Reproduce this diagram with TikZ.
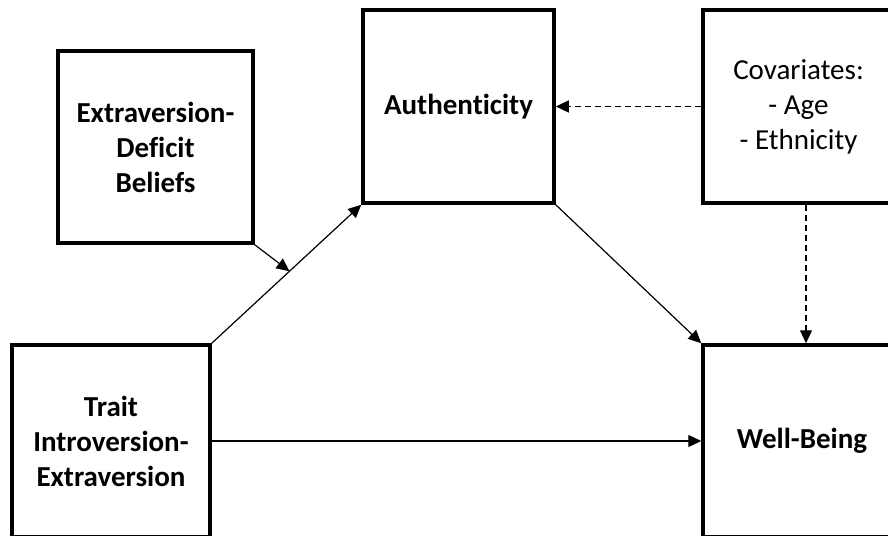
\documentclass[tikz,border=0pt]{standalone}
\usepackage{fontspec}
\setmainfont[Ligatures=NoCommon]{Carlito}
\usetikzlibrary{arrows.meta}

\begin{document}
\begin{tikzpicture}[x=1pt, y=-1pt, box/.style={rectangle, draw=black, line width=3.5pt, align=center, font=\fontsize{29}{35}\selectfont}, path/.style={line width=1.2pt, -{Triangle[length=13pt, width=12pt]}}, covline/.style={dash pattern=on 6pt off 4pt}]
            \useasboundingbox (0, 0) rectangle (888, 535);
            \clip (0, 0) rectangle (888, 535);
            \node (beliefs) [box, minimum width=195pt, minimum height=192pt, font=\fontsize{29}{35}\selectfont\bfseries] at (155.5, 147) {Extraversion-\\Deficit\\Beliefs};
            \node (auth) [box, minimum width=191pt, minimum height=193pt, font=\fontsize{29}{35}\selectfont\bfseries] at (458.5, 106.5) {Authenticity};
            \node (cov) [box, minimum width=191pt, minimum height=193pt] at (798.5, 106.5) {Covariates:\\- Age\\- Ethnicity};
            \node (trait) [box, minimum width=198pt, minimum height=192pt, font=\fontsize{29}{35}\selectfont\bfseries] at (111, 441) {Trait\\Introversion-\\Extraversion};
            \node (wb) [box, minimum width=198pt, minimum height=192pt, font=\fontsize{29}{35}\selectfont\bfseries] at (802, 441) {Well-Being};
            \draw[path] (trait.north east) -- coordinate[pos=0.52] (mod) (auth.south west);
            \draw[path] (beliefs.south east) -- (mod);
            \draw[path] (auth.south east) -- (wb.north west);
            \draw[path] (trait.east |- wb.west) -- (wb.west);
            \draw[path, covline] (cov.west) -- (auth.east);
            \draw[path, covline] (cov.south -| 806, 0) -- (wb.north -| 806, 0);
        \end{tikzpicture}
\end{document}
